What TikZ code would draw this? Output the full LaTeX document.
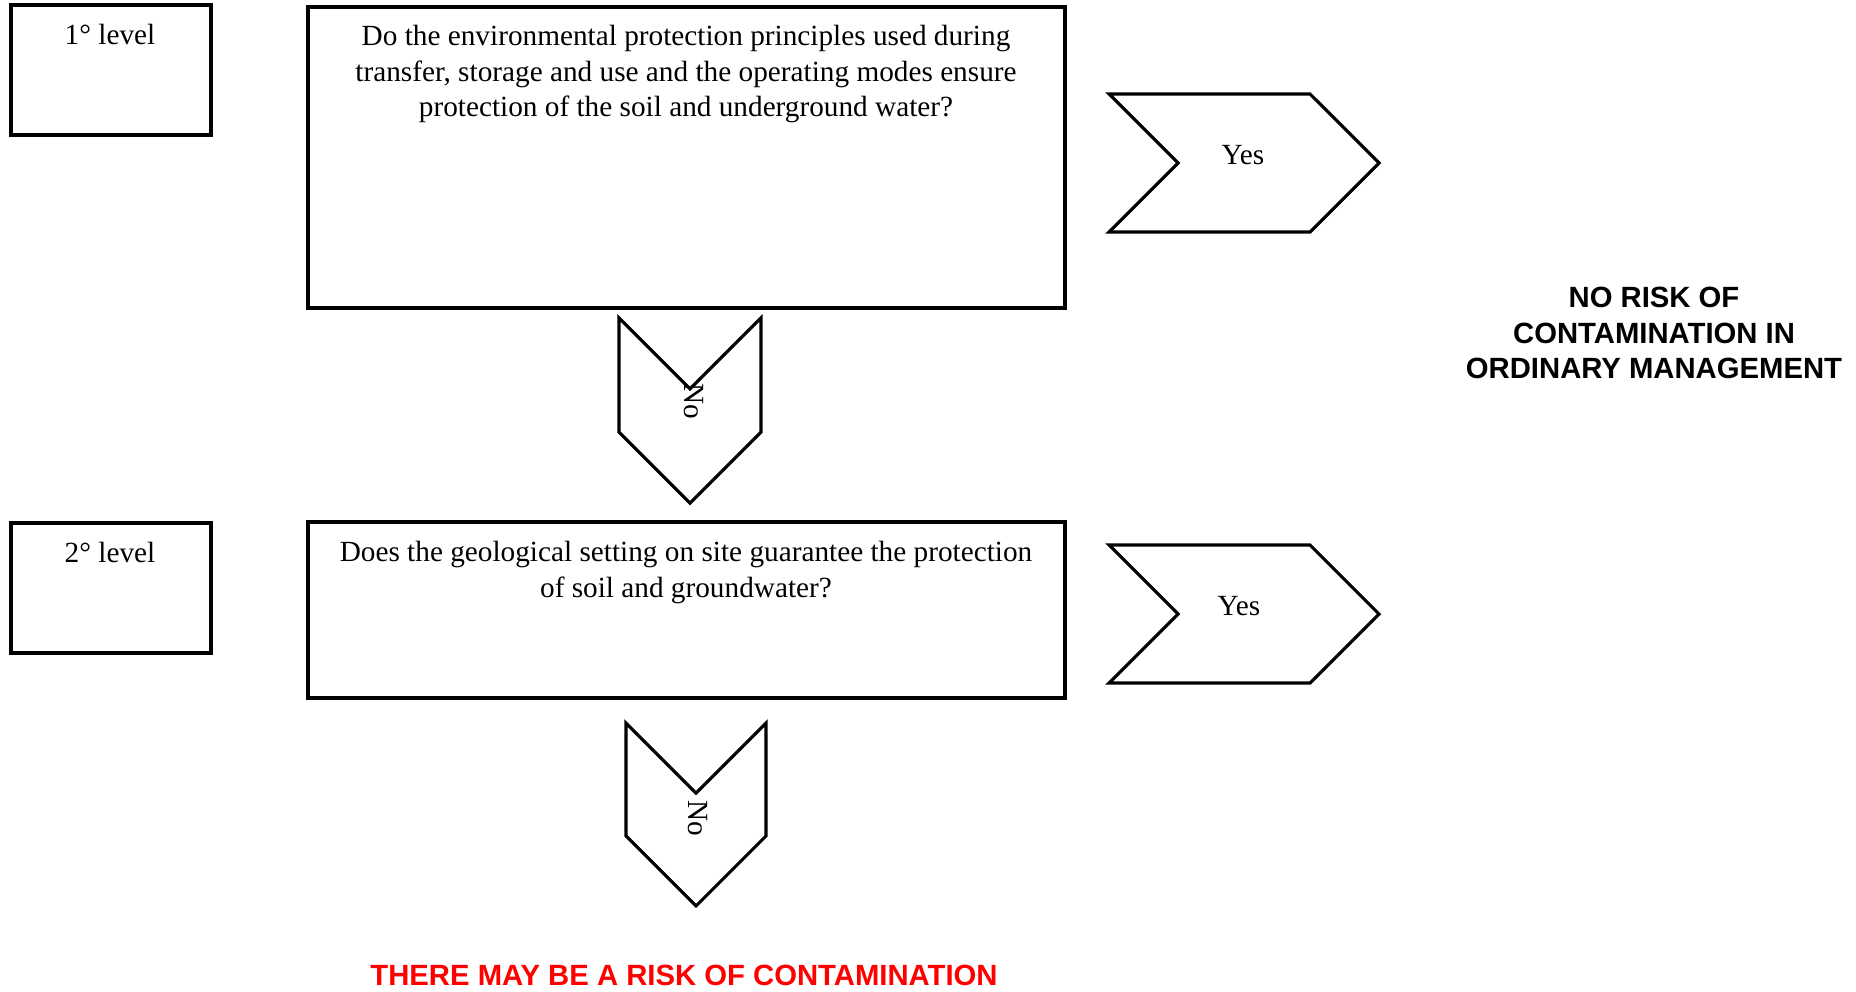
\documentclass[tikz,border=0pt]{standalone}
\usepackage{fontspec}
\setmainfont{Liberation Serif}
\newfontfamily\arialfont{Liberation Sans}
\usepackage{tikz}
\usetikzlibrary{shapes.symbols}
\definecolor{RiskRed}{RGB}{255,0,0}

\begin{document}
\begin{tikzpicture}[
 x=0.41pt, y=-0.41pt,
 lvl/.style={draw, rectangle, line width=1.3pt, minimum width=82pt, minimum height=53.3pt, inner sep=0pt},
 qbox/.style={draw, rectangle, line width=1.3pt, minimum width=310.4pt, inner sep=0pt},
 chev/.style={draw, signal, signal from=west, signal to=east, line width=1.3pt, inner sep=0pt},
 yeschev/.style={chev, minimum width=110.7pt, minimum height=56.6pt},
 nochev/.style={chev, rotate=-90},
 txt/.style={align=center, inner sep=0pt, font=\fontsize{12}{14.5}\selectfont},
 concl/.style={align=center, inner sep=0pt, font=\fontsize{12}{14.5}\selectfont\arialfont\bfseries},
]
\useasboundingbox (0,0) rectangle (1856,991);

% level boxes
\node[lvl] (lvl1) at (111,70) {};
\node[lvl] (lvl2) at (111,588) {};
\node[txt] (lvl1txt) at (110,34) {1° level};
\node[txt] (lvl2txt) at (110,552) {2° level};

% questions
\node[qbox, minimum height=123.4pt] (q1) at (686.5,157.5) {};
\node[txt, anchor=north] (q1txt) at (686,25) {Do the environmental protection principles used during\\
transfer, storage and use and the operating modes ensure\\
protection of the soil and underground water?};
\node[qbox, minimum height=72.2pt] (q2) at (686.5,610) {};
\node[txt, anchor=north] (q2txt) at (686,541) {Does the geological setting on site guarantee the protection\\
of soil and groundwater?};

% yes / no arrows
\node[yeschev] (yes1) at (1244,163) {};
\node[yeschev] (yes2) at (1244,614) {};
\node[txt] (yes1txt) at (1243,155) {Yes};
\node[txt] (yes2txt) at (1239,606) {Yes};
\node[nochev, minimum width=75.9pt, minimum height=58.2pt] (no1) at (690,410.5) {};
\node[nochev, minimum width=75pt, minimum height=57.4pt] (no2) at (696,814.5) {};
\node[txt, rotate=-90] (no1txt) at (694,401) {No};
\node[txt, rotate=-90] (no2txt) at (698,818) {No};

% outcomes
\node[concl] (norisk) at (1654,333) {NO RISK OF\\CONTAMINATION IN\\ORDINARY MANAGEMENT};
\node[concl, text=RiskRed] (risk) at (684,975) {THERE MAY BE A RISK OF CONTAMINATION};
\end{tikzpicture}
\end{document}
